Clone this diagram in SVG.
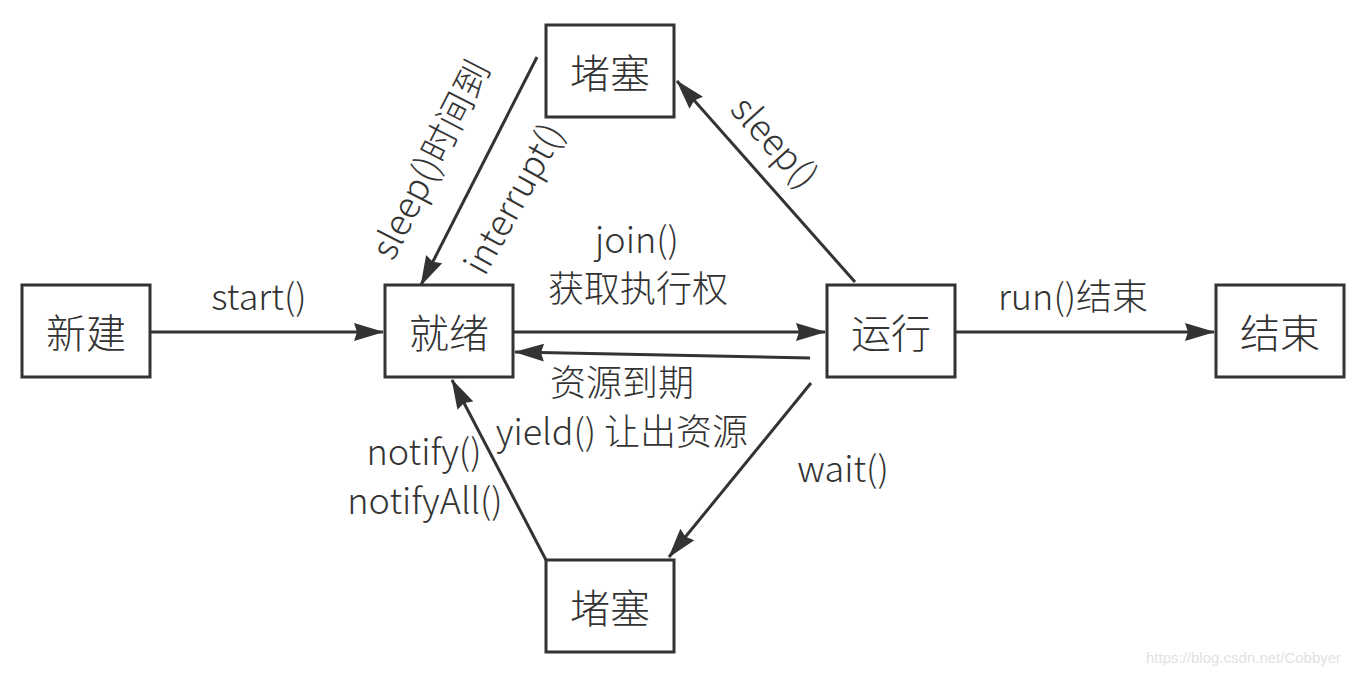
<svg xmlns="http://www.w3.org/2000/svg" width="1360" height="677" viewBox="0 0 1360 677">
<style>
.box{fill:#fff;stroke:#333;stroke-width:3}
.bt{font-family:"Noto Sans CJK SC","Noto Sans",sans-serif;font-size:40px;font-weight:300;fill:#333;text-anchor:middle;dominant-baseline:central}
.lb{font-family:"Noto Sans CJK SC","Noto Sans",sans-serif;font-size:36px;font-weight:300;fill:#333;text-anchor:middle}
.ln{fill:none;stroke:#333;stroke-width:3;marker-end:url(#ah)}
.wm{font-family:"Liberation Sans",Arial,sans-serif;font-size:15px;fill:#e2e2e2}
</style>
<defs>
<marker id="ah" markerUnits="userSpaceOnUse" viewBox="0 0 30 20" refX="29" refY="10" markerWidth="30" markerHeight="20" orient="auto">
<path d="M0,1 L30,10 L0,19 L3,10 z" fill="#333"/>
</marker>
</defs>
<rect width="1360" height="677" fill="#fff"/>
<g id="connectors">
<line class="ln" x1="150" y1="332" x2="383" y2="332"/>
<line class="ln" x1="513" y1="332" x2="825" y2="332"/>
<line class="ln" x1="810" y1="358" x2="515" y2="352"/>
<line class="ln" x1="955" y1="332" x2="1214" y2="332"/>
<line class="ln" x1="855" y1="282" x2="677" y2="81"/>
<line class="ln" x1="537" y1="57" x2="421" y2="285"/>
<line class="ln" x1="811" y1="383" x2="669" y2="557"/>
<line class="ln" x1="546" y1="560" x2="452" y2="380"/>
<text class="lb" x="259" y="310">start()</text>
<text class="lb" x="637" y="253">join()<tspan x="638" dy="49">获取执行权</tspan></text>
<text class="lb" x="622" y="396">资源到期<tspan x="622" dy="49">yield() 让出资源</tspan></text>
<text class="lb" x="1073" y="310">run()结束</text>
<text class="lb" x="843" y="482">wait()</text>
<text class="lb" x="424" y="465">notify()<tspan x="425" dy="49">notifyAll()</tspan></text>
<text class="lb" dominant-baseline="central" transform="translate(428,158) rotate(-63)">sleep()时间到</text>
<text class="lb" dominant-baseline="central" transform="translate(511,197) rotate(-61)">interrupt()</text>
<text class="lb" dominant-baseline="central" transform="translate(777,140) rotate(48)">sleep()</text>
</g>
<g id="n-new"><rect class="box" x="22" y="285" width="128" height="92"/><text class="bt" x="86" y="331">新建</text></g>
<g id="n-ready"><rect class="box" x="385" y="285" width="128" height="92"/><text class="bt" x="449" y="331">就绪</text></g>
<g id="n-run"><rect class="box" x="827" y="285" width="128" height="92"/><text class="bt" x="891" y="331">运行</text></g>
<g id="n-end"><rect class="box" x="1216" y="285" width="128" height="92"/><text class="bt" x="1280" y="331">结束</text></g>
<g id="n-block-top"><rect class="box" x="546" y="25" width="128" height="92"/><text class="bt" x="610" y="71">堵塞</text></g>
<g id="n-block-bottom"><rect class="box" x="546" y="560" width="128" height="92"/><text class="bt" x="610" y="606">堵塞</text></g>
<text class="wm" x="1146" y="663">https://blog.csdn.net/Cobbyer</text>
</svg>
